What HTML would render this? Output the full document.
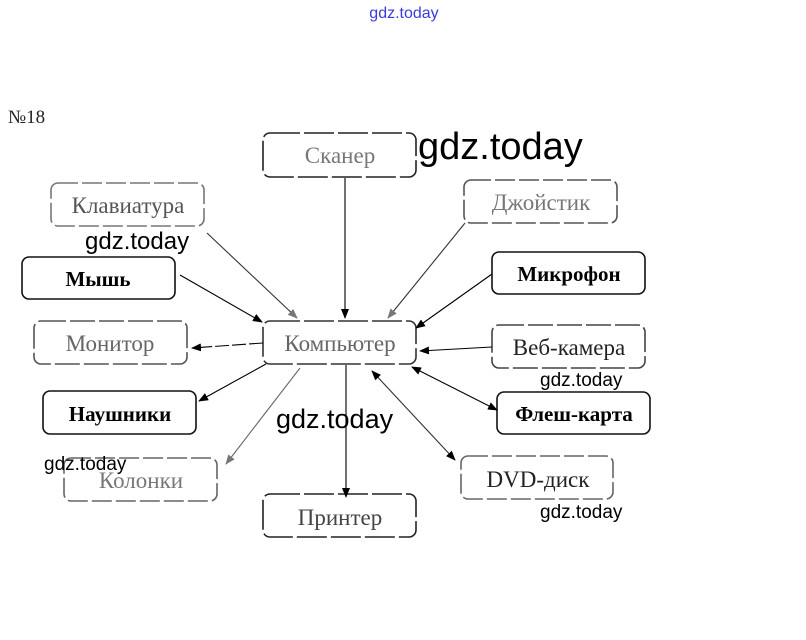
<!DOCTYPE html>
<html><head><meta charset="utf-8"><style>
html,body{margin:0;padding:0;background:#fff;width:806px;height:640px;overflow:hidden}
svg text{font-family:"Liberation Serif","DejaVu Serif",serif}
.wm{font-family:"Liberation Sans","DejaVu Sans",sans-serif;font-weight:normal}
</style></head><body>
<svg width="806" height="640" viewBox="0 0 806 640" xmlns="http://www.w3.org/2000/svg">
<defs>
<marker id="a" markerWidth="10" markerHeight="8" refX="9" refY="4" orient="auto" markerUnits="userSpaceOnUse"><path d="M0,0 L10,4 L0,8 Z" fill="#000"/></marker>
<marker id="g" markerWidth="10" markerHeight="8" refX="9" refY="4" orient="auto" markerUnits="userSpaceOnUse"><path d="M0,0 L10,4 L0,8 Z" fill="#777"/></marker>
<marker id="s" markerWidth="10" markerHeight="8" refX="1" refY="4" orient="auto" markerUnits="userSpaceOnUse"><path d="M10,0 L0,4 L10,8 Z" fill="#000"/></marker>
</defs>
<text x="404" y="18" text-anchor="middle" class="wm" font-size="16" fill="#3a3ae0">gdz.today</text>
<text x="8" y="123" font-size="19" fill="#222">№18</text>

<g fill="none" stroke-width="1.6">
<rect x="263" y="133" width="153" height="44" rx="7" stroke="#222" stroke-dasharray="30 4"/>
<rect x="51" y="183" width="153" height="43" rx="7" stroke="#777" stroke-dasharray="20 4"/>
<rect x="464" y="180" width="153" height="43" rx="7" stroke="#555" stroke-dasharray="20 4"/>
<rect x="22" y="257" width="153" height="42" rx="7" stroke="#111"/>
<rect x="492" y="252" width="153" height="42" rx="7" stroke="#111"/>
<rect x="34" y="321" width="153" height="43" rx="7" stroke="#555" stroke-dasharray="25 4"/>
<rect x="263" y="321" width="153" height="43" rx="7" stroke="#333" stroke-dasharray="30 4"/>
<rect x="492" y="325" width="153" height="43" rx="7" stroke="#444" stroke-dasharray="25 4"/>
<rect x="43" y="391" width="153" height="43" rx="7" stroke="#111"/>
<rect x="497" y="392" width="153" height="42" rx="7" stroke="#111"/>
<rect x="64" y="458" width="153" height="43" rx="7" stroke="#666" stroke-dasharray="20 4"/>
<rect x="461" y="456" width="152" height="43" rx="7" stroke="#666" stroke-dasharray="20 4"/>
<rect x="263" y="494" width="153" height="43" rx="7" stroke="#222" stroke-dasharray="30 4"/>
</g>

<g font-size="23" text-anchor="middle">
<text x="340" y="163" fill="#777">Сканер</text>
<text x="128" y="213" fill="#555">Клавиатура</text>
<text x="541" y="210" fill="#777">Джойстик</text>
<text x="98" y="286" fill="#000" font-weight="bold" font-size="21">Мышь</text>
<text x="569" y="281" fill="#000" font-weight="bold" font-size="21">Микрофон</text>
<text x="110" y="351" fill="#666">Монитор</text>
<text x="340" y="351" fill="#666">Компьютер</text>
<text x="569" y="355" fill="#222">Веб-камера</text>
<text x="120" y="421" fill="#000" font-weight="bold" font-size="21">Наушники</text>
<text x="574" y="421" fill="#000" font-weight="bold" font-size="21">Флеш-карта</text>
<text x="141" y="488" fill="#777">Колонки</text>
<text x="538" y="487" fill="#222">DVD-диск</text>
<text x="340" y="525" fill="#444">Принтер</text>
</g>

<g stroke-width="1.1" fill="none">
<line x1="345" y1="178" x2="345" y2="318" stroke="#000" marker-end="url(#a)"/>
<line x1="207" y1="233" x2="297" y2="318" stroke="#333" marker-end="url(#g)"/>
<line x1="465" y1="223" x2="388" y2="318" stroke="#333" marker-end="url(#g)"/>
<line x1="180" y1="275" x2="262" y2="322" stroke="#000" marker-end="url(#a)"/>
<line x1="492" y1="274" x2="416" y2="328" stroke="#000" marker-end="url(#a)"/>
<line x1="263" y1="343" x2="192" y2="348" stroke="#000" stroke-dasharray="14 3" marker-end="url(#a)"/>
<line x1="492" y1="347" x2="420" y2="351" stroke="#000" marker-end="url(#a)"/>
<line x1="412" y1="367" x2="497" y2="410" stroke="#000" marker-start="url(#s)" marker-end="url(#a)"/>
<line x1="372" y1="371" x2="455" y2="460" stroke="#333" marker-start="url(#s)" marker-end="url(#a)"/>
<line x1="346" y1="365" x2="346" y2="497" stroke="#000" marker-end="url(#a)"/>
<line x1="266" y1="364" x2="199" y2="401" stroke="#000" marker-end="url(#a)"/>
<line x1="300" y1="368" x2="226" y2="464" stroke="#666" marker-end="url(#g)"/>
</g>

<g class="wm" fill="#000">
<text x="418" y="159" font-size="38" class="wm">gdz.today</text>
<text x="85" y="249" font-size="24" class="wm">gdz.today</text>
<text x="276" y="428" font-size="27" class="wm">gdz.today</text>
<text x="540" y="386" font-size="19" class="wm">gdz.today</text>
<text x="540" y="518" font-size="19" class="wm">gdz.today</text>
<text x="44" y="470" font-size="19" class="wm">gdz.today</text>
</g>
</svg>
</body></html>
